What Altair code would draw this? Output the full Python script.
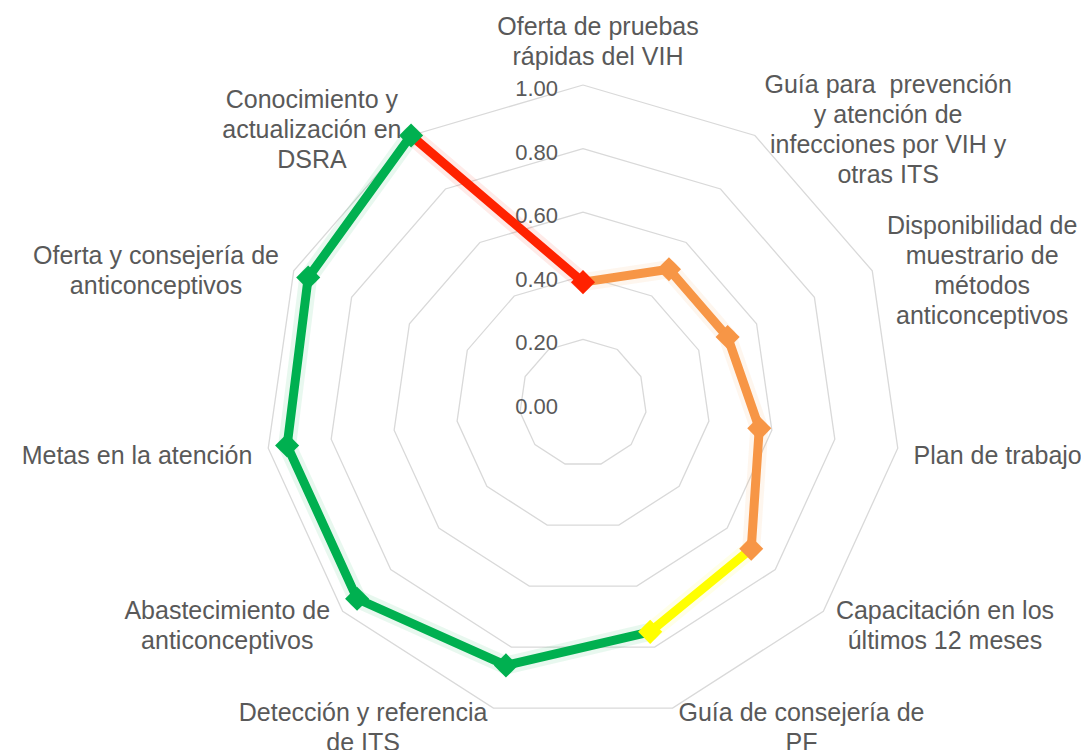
import math
import altair as alt
import pandas as pd

# ---------------- data ----------------
categorias = [
    "Oferta de pruebas\nrápidas del VIH",
    "Guía para \u00a0prevención\ny atención de\ninfecciones por VIH y\notras ITS",
    "Disponibilidad de\nmuestrario de\nmétodos\nanticonceptivos",
    "Plan de trabajo",
    "Capacitación en los\núltimos 12 meses",
    "Guía de consejería de\nPF",
    "Detección y referencia\nde ITS",
    "Abastecimiento de\nanticonceptivos",
    "Metas en la atención",
    "Oferta y consejería de\nanticonceptivos",
    "Conocimiento y\nactualización en\nDSRA",
]
valores = [0.38, 0.50, 0.50, 0.56, 0.70, 0.75, 0.86, 0.94, 0.94, 0.95, 1.00]
niveles = ["Bajo", "Medio", "Medio", "Medio", "Medio", "Aceptable",
           "Alto", "Alto", "Alto", "Alto", "Alto"]
anillos = [0.2, 0.4, 0.6, 0.8, 1.0]
marcas_eje = [0.0, 0.2, 0.4, 0.6, 0.8, 1.0]

# ---------------- layout / style ----------------
N = len(categorias)
W, H = 1073, 742
PX = 318.0            # pixels per unit of radius
CX, CY = 575.0, 395.0  # centre inside the plot area
FONT = "Liberation Sans"
FS_CAT = 25
LH = 30
FS_AX = 22
GRAY = "#595959"
niv_dom = ["Bajo", "Medio", "Aceptable", "Alto"]
niv_col = ["#FF2200", "#F79646", "#FFFF00", "#00B050"]

xs = alt.Scale(domain=[-CX / PX, (W - CX) / PX], nice=False, zero=False)
ys = alt.Scale(domain=[-(H - CY) / PX, CY / PX], nice=False, zero=False)
X = lambda f: alt.X(f, type="quantitative", scale=xs, axis=None)
Y = lambda f: alt.Y(f, type="quantitative", scale=ys, axis=None)

# approximate Arial advance widths (em) for label box widths
_w = {"a": .556, "b": .556, "c": .5, "d": .556, "e": .556, "f": .278, "g": .556,
      "h": .556, "i": .222, "j": .222, "k": .5, "l": .222, "m": .833, "n": .556,
      "o": .556, "p": .556, "q": .556, "r": .333, "s": .5, "t": .278, "u": .556,
      "v": .5, "w": .722, "x": .5, "y": .5, "z": .5, " ": .278, "\u00a0": .278,
      "á": .556, "é": .556, "í": .278, "ó": .556, "ú": .556, "A": .667, "C": .722,
      "D": .722, "G": .778, "H": .722, "I": .278, "M": .833, "O": .778,
      "P": .667, "R": .722, "S": .667, "T": .611, "V": .667, "F": .611}


def ancho(t):
    return sum(_w.get(ch, .556) for ch in t) * FS_CAT


# ---------------- tables ----------------
puntos = pd.DataFrame({"idx": list(range(N)), "valor": valores, "nivel": niveles,
                       "categoria": [c.replace("\n", " ") for c in categorias]})

segmentos = pd.DataFrame({
    "idx": list(range(N)),
    "idx0": [(i - 1) % N for i in range(N)],
    "valor": valores,
    "valor0": [valores[(i - 1) % N] for i in range(N)],
    "nivel": niveles,
})

anillos_df = pd.DataFrame([{"anillo": a, "vertice": k}
                           for a in anillos for k in range(N + 1)])

eje_df = pd.DataFrame({"marca": marcas_eje})

rows = []
for i, cat in enumerate(categorias):
    ang = 2 * math.pi * i / N
    s, c = math.sin(ang), math.cos(ang)
    lines = cat.split("\n")
    wbox = max(ancho(l) for l in lines)
    if abs(s) < 0.01:
        cxp = 15.0
        cyp = -PX * c - 43.0
    else:
        sg = 1 if s > 0 else -1
        cxp = PX * s + sg * (2 + 14 * abs(s)) + sg * wbox / 2
        cyp = -PX * c + (6 - 14 * c)
    # y of the first line so that the block is centred on cyp
    cyp -= (len(lines) - 1) * LH / 2
    rows.append({"texto": cat, "lx": cxp / PX, "ly": -cyp / PX})
etiquetas_df = pd.DataFrame(rows)

ANG = "2*PI*datum.{f}/" + str(N)

# ---------------- layers ----------------
rings = alt.Chart(anillos_df).transform_calculate(
    a=ANG.format(f="vertice"),
    px="datum.anillo*sin(datum.a)",
    py="datum.anillo*cos(datum.a)",
).mark_line(color="#D9D9D9", strokeWidth=1.3).encode(
    x=X("px"), y=Y("py"), detail="anillo:N", order="vertice:Q"
)

axis_txt = alt.Chart(eje_df).mark_text(
    align="right", baseline="middle", dx=-25, dy=4,
    font=FONT, fontSize=FS_AX, color=GRAY
).encode(
    x=X("x0"), y=Y("marca"), text=alt.Text("marca:Q", format=".2f")
).transform_calculate(x0="0")

seg_base = alt.Chart(segmentos).transform_calculate(
    a=ANG.format(f="idx"), a0=ANG.format(f="idx0"),
    px="datum.valor*sin(datum.a)", py="datum.valor*cos(datum.a)",
    px0="datum.valor0*sin(datum.a0)", py0="datum.valor0*cos(datum.a0)",
)
color = alt.Color("nivel:N", scale=alt.Scale(domain=niv_dom, range=niv_col), legend=None)

glow = seg_base.mark_rule(strokeWidth=18, strokeCap="round", opacity=0.09).encode(
    x=X("px0"), y=Y("py0"), x2="px", y2="py", color=color
)
segs = seg_base.mark_rule(strokeWidth=9, strokeCap="round").encode(
    x=X("px0"), y=Y("py0"), x2="px", y2="py", color=color
)

pts = alt.Chart(puntos).transform_calculate(
    a=ANG.format(f="idx"),
    px="datum.valor*sin(datum.a)", py="datum.valor*cos(datum.a)",
).mark_point(shape="diamond", filled=True, size=580, opacity=1).encode(
    x=X("px"), y=Y("py"), color=color,
    tooltip=["categoria:N", alt.Tooltip("valor:Q", format=".2f")]
)

labels = alt.Chart(etiquetas_df).mark_text(
    align="center", baseline="middle", lineBreak="\n", lineHeight=LH,
    font=FONT, fontSize=FS_CAT, color=GRAY
).encode(x=X("lx"), y=Y("ly"), text="texto:N")

chart = alt.layer(rings, axis_txt, glow, segs, pts, labels).properties(
    width=W, height=H, padding=0, autosize="none", background="white"
).configure_view(stroke=None)

chart.save("out.html", embed_options={"renderer": "svg", "actions": False})
